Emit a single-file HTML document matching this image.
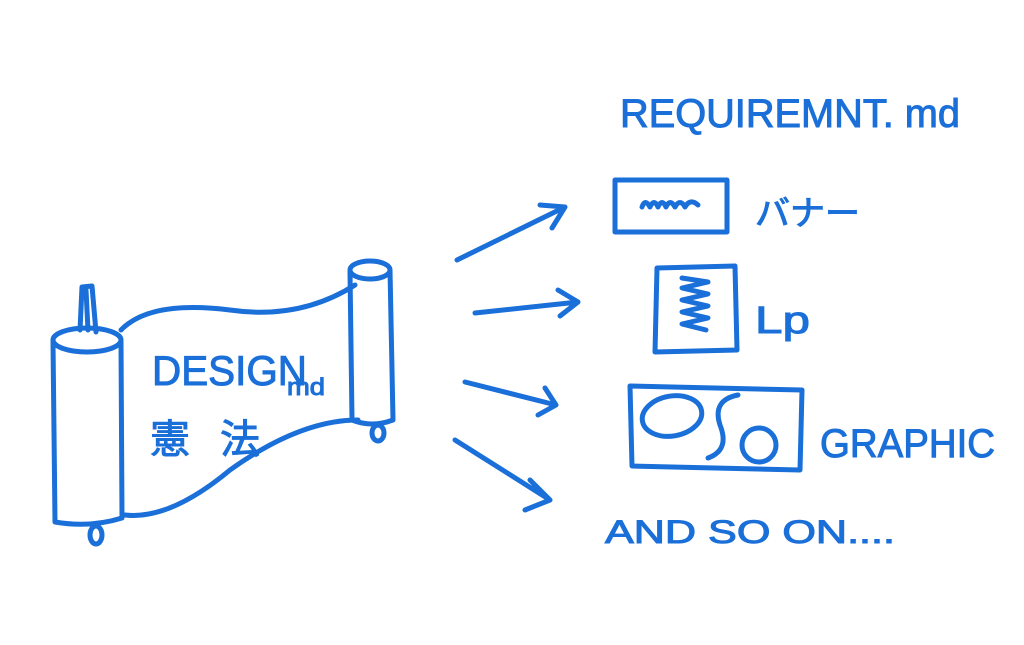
<!DOCTYPE html>
<html><head><meta charset="utf-8"><style>
html,body{margin:0;padding:0;background:#fff;}
svg{display:block}
text{font-family:"Liberation Sans","Noto Sans CJK JP",sans-serif;fill:#1a6fd8;stroke:#1a6fd8;stroke-width:1;}
</style></head><body>
<svg width="1024" height="645" viewBox="0 0 1024 645" xmlns="http://www.w3.org/2000/svg">
<g fill="none" stroke="#1a6fd8" stroke-width="5" stroke-linecap="round" stroke-linejoin="round">
<path d="M80 330 L82 287 L92 286 L96 332"/>
<path d="M86 290 L88 330"/>
<ellipse cx="87" cy="340" rx="34" ry="12"/>
<path d="M53 342 L55 522 Q90 528 122 518 L121 342"/>
<ellipse cx="96" cy="535" rx="6" ry="9"/>
<path d="M121 330 Q150 300 230 310 Q300 320 355 285"/>
<path d="M125 515 Q170 520 230 470 Q300 420 358 420"/>
<ellipse cx="370" cy="270" rx="20" ry="9"/>
<path d="M350 272 L352 420 Q372 428 393 420 L390 270"/>
<ellipse cx="378" cy="433" rx="6" ry="8"/>
<path d="M457 260 L565 207 M540 205 L565 207 L552 228"/>
<path d="M475 313 L578 302 M558 290 L578 302 L560 316"/>
<path d="M465 382 L556 405 M545 388 L556 405 L538 415"/>
<path d="M455 440 L550 500 M530 480 L550 500 L525 510"/>
<rect x="615" y="180" width="112" height="52"/>
<path d="M642 207 Q645 198 650 207 Q654 198 658 207 Q662 198 666 207 Q670 198 675 207 Q680 198 685 207 Q690 198 698 205"/>
<path d="M657 268 L735 266 L737 350 L655 352 Z"/>
<path d="M682 278 L708 282 L682 288 L708 294 L682 300 L708 306 L682 312 L708 318 L682 324 L706 330"/>
<path d="M630 386 L802 390 L800 470 L632 466 Z"/>
<ellipse cx="672" cy="416" rx="30" ry="20" transform="rotate(-10 672 416)"/>
<path d="M738 395 Q712 400 720 425 Q730 450 708 458"/>
<circle cx="759" cy="445" r="17"/>
</g>
<text x="152" y="385" font-size="42" textLength="155" lengthAdjust="spacingAndGlyphs">DESIGN</text>
<text x="287" y="395" font-size="24" textLength="38" lengthAdjust="spacingAndGlyphs">md</text>
<text x="150" y="453" font-size="40" textLength="110" lengthAdjust="spacing">憲 法</text>
<text x="620" y="127" font-size="40" textLength="340" lengthAdjust="spacingAndGlyphs">REQUIREMNT. md</text>
<text x="755" y="225" font-size="34" textLength="105" lengthAdjust="spacingAndGlyphs">バナー</text>
<text x="755" y="333" font-size="38" textLength="55" lengthAdjust="spacingAndGlyphs">Lp</text>
<text x="820" y="457" font-size="40" textLength="175" lengthAdjust="spacingAndGlyphs">GRAPHIC</text>
<text x="605" y="543" font-size="32" textLength="290" lengthAdjust="spacingAndGlyphs">AND SO ON....</text>
</svg>
</body></html>
